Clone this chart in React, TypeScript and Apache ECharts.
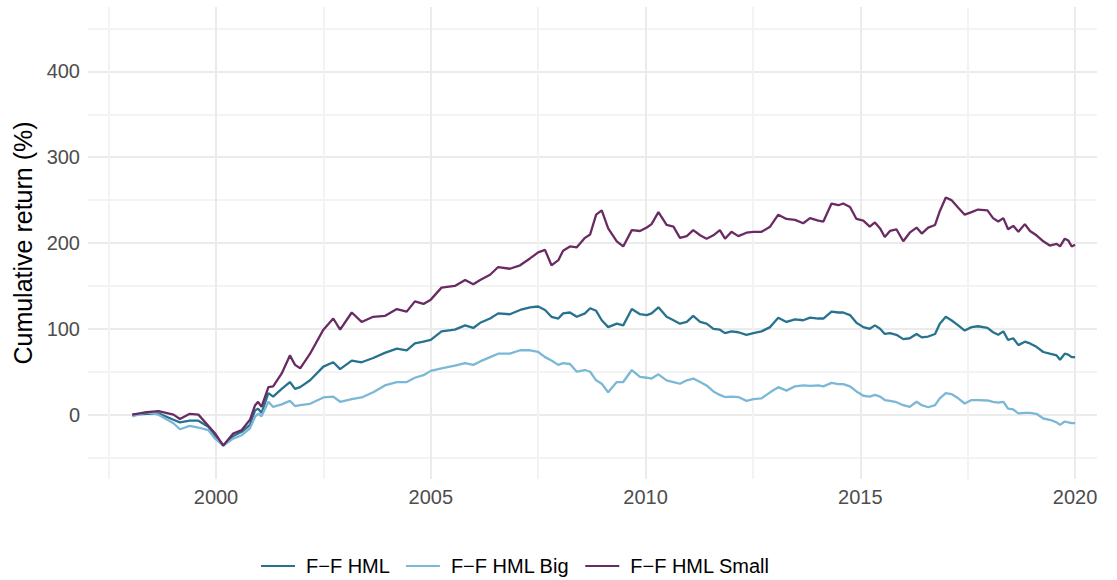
import { useEffect, useRef } from 'react';
import * as echarts from 'echarts';

// Decimal-year dates of the sampled points
const dates = [
  1998.05, 1998.39, 1998.66, 1999.01, 1999.16, 1999.39, 1999.59, 1999.82, 1999.98, 2000.17,
  2000.40, 2000.60, 2000.79, 2000.91, 2000.98, 2001.06, 2001.22, 2001.33, 2001.53, 2001.72,
  2001.84, 2001.96, 2002.19, 2002.50, 2002.73, 2002.89, 2003.16, 2003.39, 2003.66, 2003.93,
  2004.21, 2004.44, 2004.63, 2004.83, 2005.00, 2005.25, 2005.56, 2005.80, 2005.99, 2006.15,
  2006.38, 2006.57, 2006.84, 2007.08, 2007.31, 2007.50, 2007.66, 2007.81, 2007.97, 2008.08,
  2008.24, 2008.40, 2008.59, 2008.71, 2008.85, 2008.98, 2009.13, 2009.33, 2009.48, 2009.68,
  2009.87, 2010.03, 2010.14, 2010.30, 2010.49, 2010.65, 2010.80, 2010.96, 2011.11, 2011.27,
  2011.42, 2011.58, 2011.73, 2011.85, 2012.00, 2012.16, 2012.35, 2012.51, 2012.70, 2012.90,
  2013.09, 2013.28, 2013.48, 2013.67, 2013.83, 2014.02, 2014.14, 2014.33, 2014.49, 2014.60,
  2014.76, 2014.91, 2015.07, 2015.22, 2015.34, 2015.46, 2015.57, 2015.69, 2015.84, 2016.00,
  2016.15, 2016.31, 2016.43, 2016.58, 2016.74, 2016.85, 2016.99, 2017.12, 2017.28, 2017.43,
  2017.59, 2017.74, 2017.96, 2018.09, 2018.21, 2018.33, 2018.44, 2018.56, 2018.68, 2018.83,
  2018.95, 2019.10, 2019.26, 2019.41, 2019.57, 2019.65, 2019.76, 2019.84, 2019.92, 2020.00,
];

const hml = [
  0, 1, 1.5, -6, -9, -7, -7, -14, -25, -36,
  -25, -20, -12, 5, 7, 2, 25, 21, 30, 38,
  30, 32, 40, 56, 61, 53, 63, 61, 66, 72,
  77, 75, 83, 85, 87, 97, 99, 104, 101, 107,
  112, 118, 117, 122, 125, 126, 122, 114, 112, 118,
  119, 114, 118, 124, 121, 110, 102, 106, 104, 123,
  117, 116, 118, 125, 114, 110, 106, 108, 115, 108,
  106, 100, 99, 95, 97, 96, 93, 95, 97, 102,
  113, 108, 111, 110, 113, 112, 112, 120, 119, 119,
  116, 107, 102, 100, 104, 100, 94, 95, 93, 88,
  89, 94, 90, 91, 94, 106, 114, 110, 104, 98,
  102, 103, 101, 96, 93, 97, 87, 89, 81, 85,
  83, 79, 73, 71, 69, 64, 71, 70, 67, 67,
];

const hmlBig = [
  -2, 3, 0, -10, -17, -13, -15, -18, -28, -36,
  -28, -24, -16, -2.5, 1, -2, 15, 9, 12, 16,
  10, 11, 12.6, 20, 21, 15, 18, 20, 26, 34,
  38, 38, 43, 46, 51, 54, 57, 60, 58, 62,
  67, 71, 71, 75, 75, 73, 67, 63, 58, 60,
  59, 50, 52, 50, 40, 36, 26, 38, 38, 52,
  44, 43, 42, 47, 40, 38, 36, 40, 42, 38,
  34, 27, 23, 20.5, 21, 20.5, 16, 18, 19, 26,
  32, 28, 33, 34, 33.5, 34, 33, 37, 35.6, 35.6,
  33, 27, 22, 21, 23, 21, 17, 16, 14.5, 11,
  9, 15, 11, 8.6, 11, 19, 25, 24, 19, 13,
  17, 17, 16.5, 15, 14, 15, 7, 6, 1.4, 2,
  2, 1, -4.5, -6, -9, -12, -8, -9, -10, -10,
];

const hmlSmall = [
  0, 3, 4, 0, -5, 1, 0, -13, -22, -36,
  -22, -18, -6, 11, 15, 9, 32, 33, 48, 69,
  58, 54, 71, 99, 112, 99, 119, 108, 114, 115,
  123, 120, 132, 129, 134, 148, 150, 157, 152, 157,
  163, 172, 170, 174, 182, 189, 192, 174, 180, 191,
  196, 195, 206, 210, 233, 238, 217, 202, 196, 215,
  214, 218, 222, 236, 221, 219, 206, 208, 215, 209,
  205, 209, 215, 205, 213, 208, 212, 213, 213, 219,
  233, 228, 227, 223, 229, 226, 225, 246, 244, 246,
  242, 228, 226, 219, 224, 217, 207, 214, 216, 202,
  212, 218, 211, 218, 221, 237, 253, 250, 241, 233,
  236, 239, 238, 229, 225, 229, 216, 220, 213, 222,
  214, 209, 202, 197, 199, 196, 205, 203, 196, 198,
];

const seriesNames = ['F\u2212F HML', 'F\u2212F HML Big', 'F\u2212F HML Small'];
const seriesColors = ['#26728f', '#7bb8d5', '#692b63'];

const xLabelTicks = [2000, 2005, 2010, 2015, 2020];
const xGridTicks = [1997.5, 2000, 2002.5, 2005, 2007.5, 2010, 2012.5, 2015, 2017.5, 2020];
const yLabelTicks = [0, 100, 200, 300, 400];
const yGridTicks = [-50, 0, 50, 100, 150, 200, 250, 300, 350, 400, 450];

const FONT = '"Liberation Sans", Arial, Helvetica, sans-serif';

export default function App() {
  const ref = useRef<HTMLDivElement>(null);

  useEffect(() => {
    const chart = echarts.init(ref.current!, null, { renderer: 'svg' });
    const values = [hml, hmlBig, hmlSmall];
    chart.setOption({
      animation: false,
      backgroundColor: '#ffffff',
      textStyle: { fontFamily: FONT },
      grid: { left: 88, right: 20, top: 7, bottom: 101, containLabel: false },
      xAxis: {
        type: 'value',
        min: 1997.02,
        max: 2020.51,
        axisLine: { show: false },
        axisTick: { show: false, customValues: xGridTicks },
        axisLabel: {
          customValues: xLabelTicks,
          color: '#4d4d4d',
          fontSize: 20,
          margin: 8,
          fontFamily: FONT,
          formatter: (v: number) => String(v),
        },
        splitLine: { show: true, lineStyle: { color: ['#f3f3f3', '#ebebeb'], width: 2 } },
      },
      yAxis: {
        type: 'value',
        min: -75,
        max: 475,
        name: 'Cumulative return (%)',
        nameLocation: 'middle',
        nameGap: 53,
        nameRotate: 90,
        nameTextStyle: { fontSize: 25, color: '#000000', fontFamily: FONT },
        axisLine: { show: false },
        axisTick: { show: false, customValues: yGridTicks },
        axisLabel: {
          customValues: yLabelTicks,
          color: '#4d4d4d',
          fontSize: 20,
          margin: 8,
          fontFamily: FONT,
          formatter: (v: number) => String(v),
        },
        splitLine: { show: true, lineStyle: { color: ['#f3f3f3', '#ebebeb'], width: 2 } },
      },
      legend: {
        left: 256,
        top: 551,
        icon: 'rect',
        itemWidth: 34,
        itemHeight: 2,
        itemGap: 16,
        data: seriesNames,
        textStyle: { fontSize: 20, color: '#000000', fontFamily: FONT, padding: [0, 0, 0, 6] },
      },
      series: seriesNames.map((name, k) => ({
        name,
        type: 'line',
        data: dates.map((d, i) => [d, values[k][i]]),
        showSymbol: false,
        symbol: 'none',
        lineStyle: { color: seriesColors[k], width: 2.3 },
        itemStyle: { color: seriesColors[k] },
        z: 3,
      })),
    });
    return () => chart.dispose();
  }, []);

  return (
    <div
      ref={ref}
      style={{ position: 'absolute', left: 0, top: 0, width: 1117, height: 580 }}
    />
  );
}
